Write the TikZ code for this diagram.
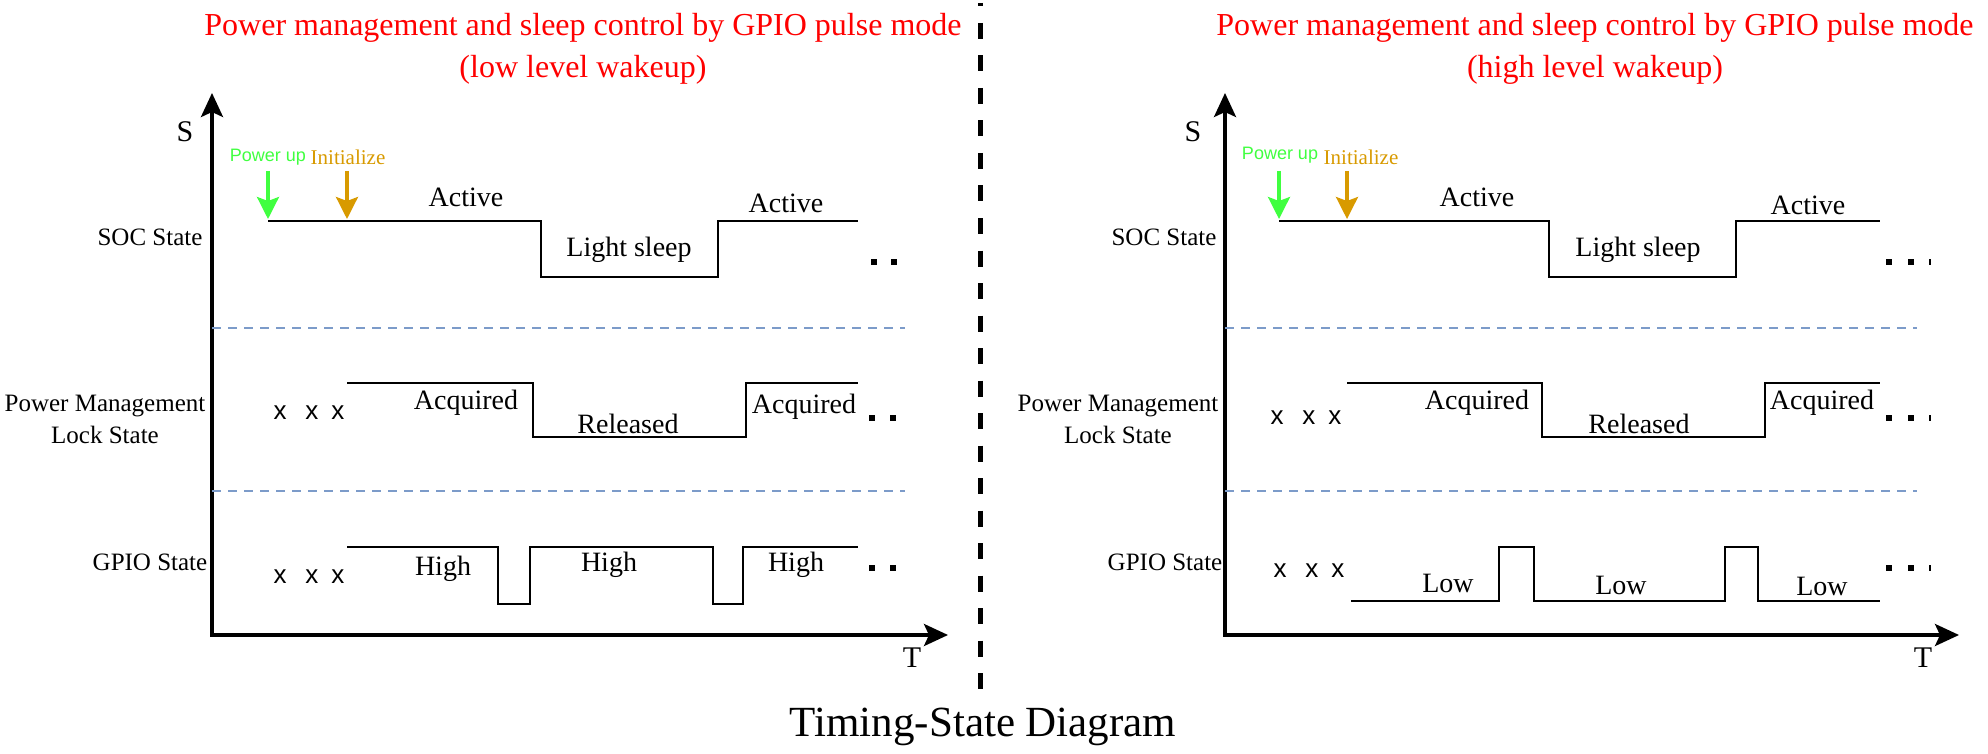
\documentclass[tikz,border=0pt]{standalone}
\usepackage{fontspec}
\setmainfont{Liberation Serif}
\newfontfamily\sansf{Liberation Sans}
\usetikzlibrary{arrows.meta}
\definecolor{pgreen}{HTML}{40FF40}
\definecolor{porange}{HTML}{D89A00}
\definecolor{sepblue}{HTML}{7C9BC9}
\begin{document}
\begin{tikzpicture}[x=1pt,y=-1pt,
  sig/.style={line width=2.3pt, line join=miter},
  axisline/.style={line width=3.6pt, -{Stealth[length=24pt,width=22pt,inset=5pt]}},
  evt/.style={line width=3.2pt, -{Stealth[length=22pt,width=22pt,inset=4pt]}},
  rowsep/.style={sepblue, line width=1.6pt, dash pattern=on 9pt off 7pt},
  st/.style={font=\fontsize{28}{30}\selectfont, inner sep=0pt},
  axlbl/.style={font=\fontsize{30}{32}\selectfont, inner sep=0pt},
  rowlbl/.style={font=\fontsize{25}{32}\selectfont, inner sep=0pt, align=center},
  ttl/.style={font=\fontsize{32}{42}\selectfont, text=red, inner sep=0pt, align=center},
  xs/.style={font=\sansf\fontsize{26}{28}\selectfont, inner sep=0pt},
  pwr/.style={font=\sansf\fontsize{18}{20}\selectfont, text=pgreen, inner sep=0pt},
  ini/.style={font=\fontsize{21}{23}\selectfont, text=porange, inner sep=0pt},
  sq/.style={fill=black, minimum size=6pt, inner sep=0pt},
  cutsq/.style={fill=black, minimum width=2pt, minimum height=6pt, inner sep=0pt},
]
\useasboundingbox (0,0) rectangle (1988,754);

% ---------------- separator and caption ----------------
\coordinate (sepTop) at (980.5,3);
\coordinate (sepBot) at (980.5,689);
\draw[line width=5pt, dash pattern=on 16pt off 16.5pt, dash phase=12.5pt] (sepTop) -- (sepBot);
\node[font=\fontsize{43}{45}\selectfont, inner sep=0pt] (caption) at (983,727) {Timing-State Diagram};

% ---------------- LEFT PANEL ----------------
\node[ttl] (ttlL) at (583,49) {Power management and sleep control by GPIO pulse mode\\(low level wakeup)};

\coordinate (LO) at (212,635);
\coordinate (LYtop) at (212,93);
\coordinate (LXend) at (948,635);
\draw[axisline] (LO) -- (LYtop);
\draw[axisline] ([xshift=-1.8pt]LO) -- (LXend);
\node[axlbl] (LS) at (185,132) {S};
\node[axlbl] (LT) at (912,658) {T};

\coordinate (LsepA1) at (212,328); \coordinate (LsepA2) at (905,328);
\coordinate (LsepB1) at (212,491); \coordinate (LsepB2) at (905,491);
\draw[rowsep] (LsepA1) -- (LsepA2);
\draw[rowsep] (LsepB1) -- (LsepB2);

\node[rowlbl] (LsocLbl) at (150,237) {SOC State};
\node[rowlbl] (LpmLbl) at (105,419) {Power Management\\Lock State};
\node[rowlbl] (LgpioLbl) at (150,562) {GPIO State};

% events
\node[pwr] (LpwrTxt) at (268,157) {Power up};
\node[ini] (LiniTxt) at (348,157) {Initialize};
\coordinate (LpwrA) at (268,171); \coordinate (LpwrB) at (268,219);
\coordinate (LiniA) at (347,171); \coordinate (LiniB) at (347,219);
\draw[evt, pgreen] (LpwrA) -- (LpwrB);
\draw[evt, porange] (LiniA) -- (LiniB);

% SOC waveform
\draw[sig] (268,221) -- (541,221) -- (541,277) -- (718,277) -- (718,221) -- (858,221);
\node[st] (LsocA1) at (466,197) {Active};
\node[st] (LsocLS) at (629,250) {Light sleep};
\node[st] (LsocA2) at (786,203) {Active};
\node[sq] (Ld1a) at (874,262) {}; \node[sq] (Ld1b) at (894,262) {};

% PM waveform
\node[xs] (LpmX) at (309,413) {x\hspace{19pt}x\hspace{13pt}x};
\draw[sig] (347,383) -- (533,383) -- (533,437) -- (746,437) -- (746,383) -- (858,383);
\node[st] (LpmAq1) at (466,403) {Acquired};
\node[st] (LpmRel) at (628,424) {Released};
\node[st] (LpmAq2) at (804,407) {Acquired};
\node[sq] (Ld2a) at (872,418) {}; \node[sq] (Ld2b) at (893,418) {};

% GPIO waveform
\node[xs] (LgpX) at (309,577) {x\hspace{19pt}x\hspace{13pt}x};
\draw[sig] (347,547) -- (498,547) -- (498,604) -- (530,604) -- (530,547) -- (713,547) -- (713,604) -- (743,604) -- (743,547) -- (858,547);
\node[st] (LgH1) at (443,569) {High};
\node[st] (LgH2) at (609,565) {High};
\node[st] (LgH3) at (796,565) {High};
\node[sq] (Ld3a) at (872,568) {}; \node[sq] (Ld3b) at (893,568) {};

% ---------------- RIGHT PANEL ----------------
\node[ttl] (ttlR) at (1595,49) {Power management and sleep control by GPIO pulse mode\\(high level wakeup)};

\coordinate (RO) at (1225,635);
\coordinate (RYtop) at (1225,93);
\coordinate (RXend) at (1959,635);
\draw[axisline] (RO) -- (RYtop);
\draw[axisline] ([xshift=-1.8pt]RO) -- (RXend);
\node[axlbl] (RS) at (1193,132) {S};
\node[axlbl] (RT) at (1923,658) {T};

\coordinate (RsepA1) at (1225,328); \coordinate (RsepA2) at (1917,328);
\coordinate (RsepB1) at (1225,491); \coordinate (RsepB2) at (1917,491);
\draw[rowsep] (RsepA1) -- (RsepA2);
\draw[rowsep] (RsepB1) -- (RsepB2);

\node[rowlbl] (RsocLbl) at (1164,237) {SOC State};
\node[rowlbl] (RpmLbl) at (1118,419) {Power Management\\Lock State};
\node[rowlbl] (RgpioLbl) at (1165,562) {GPIO State};

\node[pwr] (RpwrTxt) at (1280,155) {Power up};
\node[ini] (RiniTxt) at (1361,157) {Initialize};
\coordinate (RpwrA) at (1279,171); \coordinate (RpwrB) at (1279,219);
\coordinate (RiniA) at (1347,171); \coordinate (RiniB) at (1347,219);
\draw[evt, pgreen] (RpwrA) -- (RpwrB);
\draw[evt, porange] (RiniA) -- (RiniB);

% SOC waveform
\draw[sig] (1279,221) -- (1549,221) -- (1549,277) -- (1736,277) -- (1736,221) -- (1880,221);
\node[st] (RsocA1) at (1477,197) {Active};
\node[st] (RsocLS) at (1638,250) {Light sleep};
\node[st] (RsocA2) at (1808,205) {Active};
\node[sq] (Rd1a) at (1889,262) {}; \node[sq] (Rd1b) at (1911,262) {};
\node[cutsq] (Rd1c) at (1930,262) {};

% PM waveform
\node[xs] (RpmX) at (1306,418) {x\hspace{19pt}x\hspace{13pt}x};
\draw[sig] (1347,383) -- (1542,383) -- (1542,437) -- (1765,437) -- (1765,383) -- (1880,383);
\node[st] (RpmAq1) at (1477,403) {Acquired};
\node[st] (RpmRel) at (1639,424) {Released};
\node[st] (RpmAq2) at (1822,403) {Acquired};
\node[sq] (Rd2a) at (1889,418) {}; \node[sq] (Rd2b) at (1911,418) {};
\node[cutsq] (Rd2c) at (1930,418) {};

% GPIO waveform
\node[xs] (RgpX) at (1309,571) {x\hspace{19pt}x\hspace{13pt}x};
\draw[sig] (1351,601) -- (1499,601) -- (1499,547) -- (1534,547) -- (1534,601) -- (1725,601) -- (1725,547) -- (1758,547) -- (1758,601) -- (1880,601);
\node[st] (RgL1) at (1448,583) {Low};
\node[st] (RgL2) at (1621,585) {Low};
\node[st] (RgL3) at (1822,586) {Low};
\node[sq] (Rd3a) at (1889,568) {}; \node[sq] (Rd3b) at (1911,568) {};
\node[cutsq] (Rd3c) at (1930,568) {};
\end{tikzpicture}
\end{document}
